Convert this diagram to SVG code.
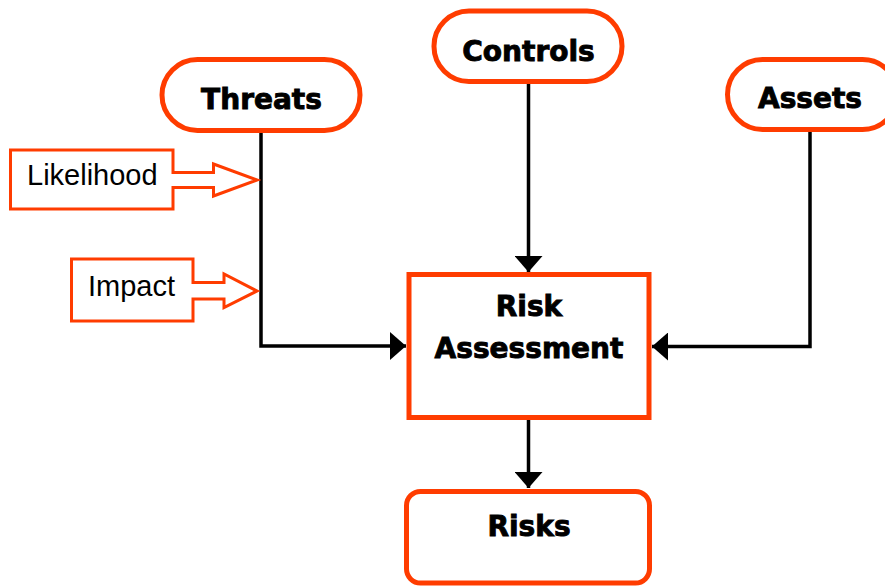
<svg xmlns="http://www.w3.org/2000/svg" width="885" height="588" viewBox="0 0 885 588">
  <style>
    .node { fill: #ffffff; stroke: #ff3c00; stroke-width: 5; }
    .callout { fill: #ffffff; stroke: #ff3c00; stroke-width: 3; stroke-linejoin: miter; }
    .title { font-family: "DejaVu Sans", "Liberation Sans", sans-serif; font-weight: bold; font-size: 28px; fill: #000000; stroke: #000000; stroke-width: 0.9; text-anchor: middle; }
    .note { font-family: "Liberation Sans", Arial, sans-serif; font-size: 29px; fill: #000000; }
    .wire { fill: none; stroke: #000000; stroke-width: 3.5; }
  </style>
  <defs>
    <marker id="head" markerUnits="userSpaceOnUse" viewBox="0 0 16 28" refX="16" refY="14" markerWidth="16" markerHeight="28" orient="auto">
      <path d="M0,0 L16,14 L0,28 Z" fill="#000000"/>
    </marker>
  </defs>

  <rect width="885" height="588" fill="#ffffff"/>

  <!-- connectors -->
  <g id="connectors">
    <path class="wire" d="M261,133 V346 H406" marker-end="url(#head)"/>
    <path class="wire" d="M528.5,84 V272" marker-end="url(#head)"/>
    <path class="wire" d="M810,132 V346.5 H652" marker-end="url(#head)"/>
    <path class="wire" d="M528.5,420 V488" marker-end="url(#head)"/>
  </g>

  <g id="threats">
    <rect class="node" x="162" y="59.5" width="198" height="71" rx="35.5"/>
    <text class="title" x="261.5" y="109">Threats</text>
  </g>

  <g id="controls">
    <rect class="node" x="434" y="11" width="188" height="70.5" rx="35"/>
    <text class="title" x="528.5" y="61">Controls</text>
  </g>

  <g id="assets">
    <rect class="node" x="727.5" y="59.5" width="170" height="70" rx="35"/>
    <text class="title" x="810" y="108">Assets</text>
  </g>

  <g id="risk-assessment">
    <rect class="node" x="409" y="274.5" width="240" height="143"/>
    <text class="title" x="529" y="316">Risk</text>
    <text class="title" x="529" y="358">Assessment</text>
  </g>

  <g id="risks">
    <rect class="node" x="406.5" y="491.5" width="243" height="91.5" rx="14"/>
    <text class="title" x="529" y="536">Risks</text>
  </g>

  <g id="likelihood">
    <path class="callout" d="M10.5,150 H173 V172.5 H213.5 V164 L257,180 L213.5,196 V187.5 H173 V209 H10.5 Z"/>
    <text class="note" x="27" y="185">Likelihood</text>
  </g>

  <g id="impact">
    <path class="callout" d="M71.5,259 H193 V282.5 H224 V274 L257,291 L224,307.5 V299 H193 V321 H71.5 Z"/>
    <text class="note" x="88" y="296">Impact</text>
  </g>
</svg>
